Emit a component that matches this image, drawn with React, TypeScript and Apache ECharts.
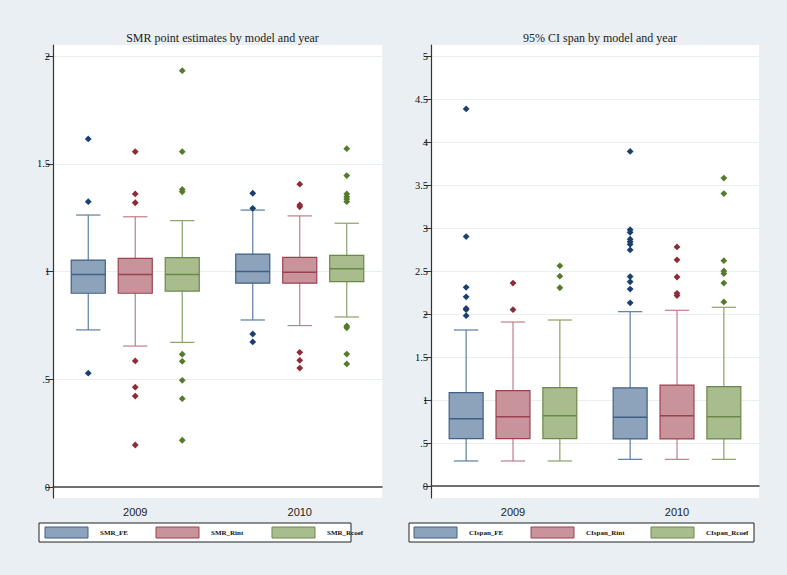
import React, { useEffect, useRef } from "react";
import * as echarts from "echarts";

// ---- data ----
const years = ["2009", "2010"];
const models = ["FE", "Rint", "Rcoef"];

// [low whisker, q1, median, q3, high whisker] per year
const smrFE = [[0.729, 0.899, 0.986, 1.053, 1.262], [0.775, 0.946, 1.0, 1.081, 1.285]];
const smrRint = [[0.654, 0.899, 0.986, 1.061, 1.254], [0.749, 0.946, 0.997, 1.066, 1.258]];
const smrRcoef = [[0.671, 0.909, 0.986, 1.064, 1.236], [0.789, 0.953, 1.013, 1.075, 1.224]];

const smrOutFE = [[1.615, 1.324, 0.528], [1.363, 1.293, 0.71, 0.673]];
const smrOutRint = [[1.556, 1.36, 1.319, 0.585, 0.463, 0.422, 0.195], [1.405, 1.309, 1.3, 0.625, 0.588, 0.552]];
const smrOutRcoef = [
  [1.932, 1.556, 1.381, 1.37, 0.616, 0.583, 0.495, 0.41, 0.217],
  [1.57, 1.445, 1.36, 1.347, 1.336, 1.324, 0.747, 0.739, 0.617, 0.571],
];

const ciFE = [[0.291, 0.55, 0.783, 1.085, 1.814], [0.31, 0.547, 0.799, 1.14, 2.027]];
const ciRint = [[0.291, 0.55, 0.806, 1.108, 1.907], [0.31, 0.547, 0.817, 1.174, 2.043]];
const ciRcoef = [[0.291, 0.55, 0.817, 1.143, 1.93], [0.31, 0.547, 0.806, 1.155, 2.078]];

const ciOutFE = [
  [4.385, 2.9, 2.31, 2.2, 2.065, 2.05, 1.98],
  [3.89, 2.98, 2.95, 2.87, 2.84, 2.81, 2.745, 2.435, 2.375, 2.29, 2.13],
];
const ciOutRint = [[2.36, 2.05], [2.78, 2.63, 2.43, 2.24, 2.215]];
const ciOutRcoef = [[2.56, 2.44, 2.305], [3.58, 3.4, 2.62, 2.5, 2.47, 2.36, 2.14]];

const smrTicks = [0, 0.5, 1, 1.5, 2];
const ciTicks = [0, 0.5, 1, 1.5, 2, 2.5, 3, 3.5, 4, 4.5, 5];
const smrLegend = ["SMR_FE", "SMR_Rint", "SMR_Rcoef"];
const ciLegend = ["CIspan_FE", "CIspan_Rint", "CIspan_Rcoef"];

// ---- styles ----
const fills = ["#8da3bb", "#c8939a", "#a9bc8e"];
const borders = ["#3f5f87", "#9a4250", "#6a8948"];
const whiskers = ["#5b7ca3", "#c27d88", "#89a16a"];
const markers = ["#1a3f6f", "#8f2a36", "#557a2c"];

const fmt = (v: number) => (v === 0 ? "0" : String(v).replace(/^0\./, "."));

function boxSeries(stats: number[][], m: number, axisIdx: number) {
  return {
    type: "custom",
    name: models[m],
    xAxisIndex: axisIdx,
    yAxisIndex: axisIdx,
    clip: false,
    encode: { x: 0, y: [1, 2, 3, 4, 5] },
    data: stats.map((s, i) => [i, ...s]),
    renderItem: (params: any, api: any) => {
      const cat = api.value(0);
      const bw = api.size([1, 0])[0];
      const x = api.coord([cat, api.value(3)])[0] + (m - 1) * bw * 0.2857;
      const yLow = api.coord([cat, api.value(1)])[1];
      const yQ1 = api.coord([cat, api.value(2)])[1];
      const yMed = api.coord([cat, api.value(3)])[1];
      const yQ3 = api.coord([cat, api.value(4)])[1];
      const yHigh = api.coord([cat, api.value(5)])[1];
      const boxW = bw * 0.207;
      const capW = bw * 0.148;
      const ws = { stroke: whiskers[m], lineWidth: 1.2 };
      return {
        type: "group",
        children: [
          { type: "line", shape: { x1: x, y1: yQ3, x2: x, y2: yHigh }, style: ws },
          { type: "line", shape: { x1: x, y1: yQ1, x2: x, y2: yLow }, style: ws },
          { type: "line", shape: { x1: x - capW / 2, y1: yHigh, x2: x + capW / 2, y2: yHigh }, style: ws },
          { type: "line", shape: { x1: x - capW / 2, y1: yLow, x2: x + capW / 2, y2: yLow }, style: ws },
          {
            type: "rect",
            shape: { x: x - boxW / 2, y: yQ3, width: boxW, height: yQ1 - yQ3 },
            style: { fill: fills[m], stroke: borders[m], lineWidth: 1.2 },
          },
          {
            type: "line",
            shape: { x1: x - boxW / 2, y1: yMed, x2: x + boxW / 2, y2: yMed },
            style: { stroke: borders[m], lineWidth: 1.5 },
          },
        ],
      };
    },
  };
}

function outlierSeries(outs: number[][], m: number, axisIdx: number) {
  const data: number[][] = [];
  outs.forEach((arr, i) => arr.forEach((v) => data.push([i, v])));
  return {
    type: "custom",
    name: models[m] + " outliers",
    xAxisIndex: axisIdx,
    yAxisIndex: axisIdx,
    clip: false,
    encode: { x: 0, y: 1 },
    data,
    renderItem: (params: any, api: any) => {
      const bw = api.size([1, 0])[0];
      const p = api.coord([api.value(0), api.value(1)]);
      const x = p[0] + (m - 1) * bw * 0.2857;
      const y = p[1];
      const r = 3.4;
      return {
        type: "polygon",
        shape: { points: [[x, y - r], [x + r, y], [x, y + r], [x - r, y]] },
        style: { fill: markers[m] },
      };
    },
  };
}

function legendGraphic(labels: string[], x0: number, width: number, swX: number[]) {
  const children: any[] = [
    {
      type: "rect",
      shape: { x: x0, y: 523, width, height: 19 },
      style: { fill: "#ffffff", stroke: "#222222", lineWidth: 1 },
    },
  ];
  labels.forEach((lab, i) => {
    children.push({
      type: "rect",
      shape: { x: swX[i], y: 527, width: 43, height: 11 },
      style: { fill: fills[i], stroke: borders[i], lineWidth: 1 },
    });
    children.push({
      type: "text",
      x: swX[i] + 55,
      y: 532.5,
      style: {
        text: lab,
        fill: "#111",
        font: "bold 7px 'Liberation Serif'",
        verticalAlign: "middle",
        align: "left",
      },
    });
  });
  return { type: "group", children };
}

export default function App() {
  const ref = useRef<HTMLDivElement>(null);
  useEffect(() => {
    document.body.style.margin = "0";
    const chart = echarts.init(ref.current!, null, { renderer: "svg" });
    const yAxisBase = (min: number, max: number, ticks: number[], gridIndex: number) => ({
      type: "value",
      gridIndex,
      min,
      max,
      axisLine: { show: true, lineStyle: { color: "#333", width: 1.2 } },
      axisTick: { show: true, length: 7, customValues: ticks, lineStyle: { color: "#333" } },
      axisLabel: {
        customValues: ticks,
        formatter: (v: number) => fmt(v),
        fontFamily: "Liberation Serif",
        fontSize: 10.5,
        color: "#111",
        margin: 3,
      },
      splitLine: { show: true, lineStyle: { color: "#e9eef1", width: 1 } },
    });
    const xAxisBase = (gridIndex: number) => ({
      type: "category",
      gridIndex,
      data: years,
      axisLine: { show: true, lineStyle: { color: "#444", width: 1.5 } },
      axisTick: { show: false },
      axisLabel: { fontFamily: "Liberation Sans", fontSize: 11, color: "#222", margin: 8 },
      splitLine: { show: false },
    });
    chart.setOption({
      animation: false,
      backgroundColor: "#e9eff2",
      title: [
        {
          text: "SMR point estimates by model and year",
          left: 217.5,
          top: 27,
          textAlign: "center",
          textStyle: { fontFamily: "Liberation Serif", fontSize: 12, fontWeight: "normal", color: "#222" },
        },
        {
          text: "95% CI span by model and year",
          left: 595,
          top: 27,
          textAlign: "center",
          textStyle: { fontFamily: "Liberation Serif", fontSize: 12, fontWeight: "normal", color: "#222" },
        },
      ],
      grid: [
        { left: 53, top: 45, width: 329, height: 453, show: true, backgroundColor: "#ffffff", borderWidth: 0 },
        { left: 431, top: 45, width: 328, height: 453, show: true, backgroundColor: "#ffffff", borderWidth: 0 },
      ],
      xAxis: [xAxisBase(0), xAxisBase(1)],
      yAxis: [
        yAxisBase(-11 / 215.5, 2 + 11 / 215.5, smrTicks, 0),
        yAxisBase(-12 / 86, 5 + 11 / 86, ciTicks, 1),
      ],
      graphic: [
        legendGraphic(smrLegend, 39, 312, [45, 156, 272]),
        legendGraphic(ciLegend, 409, 345, [414, 531, 651]),
      ],
      series: [
        boxSeries(smrFE, 0, 0),
        boxSeries(smrRint, 1, 0),
        boxSeries(smrRcoef, 2, 0),
        outlierSeries(smrOutFE, 0, 0),
        outlierSeries(smrOutRint, 1, 0),
        outlierSeries(smrOutRcoef, 2, 0),
        boxSeries(ciFE, 0, 1),
        boxSeries(ciRint, 1, 1),
        boxSeries(ciRcoef, 2, 1),
        outlierSeries(ciOutFE, 0, 1),
        outlierSeries(ciOutRint, 1, 1),
        outlierSeries(ciOutRcoef, 2, 1),
      ],
    });
    return () => chart.dispose();
  }, []);
  return (
    <div
      ref={ref}
      style={{ width: 787, height: 575, position: "absolute", left: 0, top: 0 }}
    />
  );
}
